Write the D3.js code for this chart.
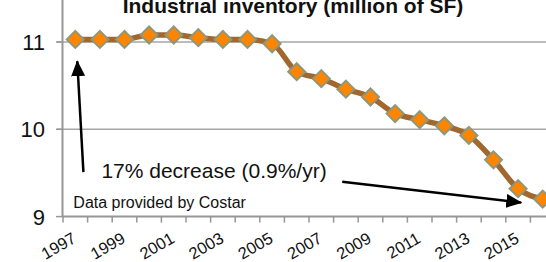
<!DOCTYPE html>
<html>
<head>
<meta charset="utf-8">
<script src="https://cdn.jsdelivr.net/npm/d3@7"></script>
<style>
  body { margin: 0; background: #fff; }
  svg { display: block; font-family: "Liberation Sans", Arial, sans-serif; }
</style>
</head>
<body>
<script>
const width = 546;
const height = 262;

const years = [
  1997, 1998, 1999, 2000, 2001, 2002, 2003, 2004, 2005, 2006,
  2007, 2008, 2009, 2010, 2011, 2012, 2013, 2014, 2015, 2016,
];
const inventory = [
  11.03, 11.03, 11.03, 11.08, 11.08, 11.05, 11.03, 11.03, 10.98, 10.66,
  10.58, 10.46, 10.37, 10.18, 10.11, 10.04, 9.93, 9.65, 9.32, 9.2,
];
const yTicks = [9, 10, 11];
const xLabels = [1997, 1999, 2001, 2003, 2005, 2007, 2009, 2011, 2013, 2015];

const svg = d3
  .select("body")
  .append("svg")
  .attr("width", width)
  .attr("height", height);

const x = d3.scaleBand().domain(years).range([63, 555]).padding(0);
const y = d3.scaleLinear().domain([9, 11]).range([216.6, 42]);

// fractional year -> pixel, for the annotations
const xf = (yr) => x(years[0]) + x.bandwidth() / 2 + (yr - years[0]) * x.step();

// gridlines
svg
  .selectAll(".grid")
  .data(yTicks.filter((d) => d > 9))
  .join("line")
  .attr("class", "grid")
  .attr("x1", 57)
  .attr("x2", width)
  .attr("y1", (d) => y(d))
  .attr("y2", (d) => y(d))
  .attr("stroke", "#a6a6a6")
  .attr("stroke-width", 1.5);

// y axis
svg
  .append("line")
  .attr("x1", 62.5)
  .attr("x2", 62.5)
  .attr("y1", y(9))
  .attr("y2", y(11.5))
  .attr("stroke", "#969696")
  .attr("stroke-width", 2);

svg
  .selectAll(".ytick")
  .data(yTicks)
  .join("line")
  .attr("x1", 56)
  .attr("x2", 62)
  .attr("y1", (d) => y(d))
  .attr("y2", (d) => y(d))
  .attr("stroke", "#969696")
  .attr("stroke-width", 1.5);

svg
  .selectAll(".ylabel")
  .data(yTicks)
  .join("text")
  .attr("x", 45)
  .attr("y", (d) => y(d))
  .attr("dy", "0.36em")
  .attr("text-anchor", "end")
  .attr("font-size", 22)
  .attr("fill", "#111")
  .text((d) => d);

// x axis
svg
  .append("line")
  .attr("x1", 62)
  .attr("x2", width)
  .attr("y1", y(9))
  .attr("y2", y(9))
  .attr("stroke", "#969696")
  .attr("stroke-width", 2);

svg
  .selectAll(".xtick")
  .data(years)
  .join("line")
  .attr("x1", (d) => x(d))
  .attr("x2", (d) => x(d))
  .attr("y1", y(9))
  .attr("y2", y(9) + 6)
  .attr("stroke", "#969696")
  .attr("stroke-width", 1.5);

svg
  .selectAll(".xlabel")
  .data(xLabels)
  .join("text")
  .attr(
    "transform",
    (d) =>
      "translate(" + (x(d) + x.bandwidth() / 2 + 2) + "," + (y(9) + 25) + ") rotate(-30)"
  )
  .attr("text-anchor", "end")
  .attr("font-size", 16.5)
  .attr("fill", "#111")
  .text((d) => d);

// title
svg
  .append("text")
  .attr("x", 293)
  .attr("y", 13)
  .attr("text-anchor", "middle")
  .attr("font-size", 21)
  .attr("font-weight", "bold")
  .attr("fill", "#111")
  .text("Industrial inventory (million of SF)");

// line + markers
const line = d3
  .line()
  .x((d, i) => x(years[i]) + x.bandwidth() / 2)
  .y((d) => y(d))
  .curve(d3.curveMonotoneX);

svg
  .append("path")
  .datum(inventory)
  .attr("d", line)
  .attr("fill", "none")
  .attr("stroke", "#a0672e")
  .attr("stroke-width", 5.5);

svg
  .selectAll(".pt")
  .data(inventory)
  .join("path")
  .attr("class", "pt")
  .attr("d", "M0,-8.5L8.5,0L0,8.5L-8.5,0Z")
  .attr(
    "transform",
    (d, i) => "translate(" + (x(years[i]) + x.bandwidth() / 2) + "," + y(d) + ")"
  )
  .attr("fill", "#ff8500")
  .attr("stroke", "#8e977a")
  .attr("stroke-width", 2);

// annotations
svg
  .append("defs")
  .append("marker")
  .attr("id", "head")
  .attr("markerUnits", "userSpaceOnUse")
  .attr("viewBox", "0 0 16 14")
  .attr("refX", 15)
  .attr("refY", 7)
  .attr("markerWidth", 16)
  .attr("markerHeight", 14)
  .attr("orient", "auto")
  .append("path")
  .attr("d", "M0,0L16,7L0,14Z")
  .attr("fill", "#000");

const arrows = [
  { from: [1997.33, 9.51], to: [1997.08, 10.78] },
  { from: [2007.85, 9.4], to: [2015.13, 9.16] },
];

svg
  .selectAll(".arrow")
  .data(arrows)
  .join("line")
  .attr("x1", (d) => xf(d.from[0]))
  .attr("y1", (d) => y(d.from[1]))
  .attr("x2", (d) => xf(d.to[0]))
  .attr("y2", (d) => y(d.to[1]))
  .attr("stroke", "#000")
  .attr("stroke-width", 2.5)
  .attr("marker-end", "url(#head)");

svg
  .append("text")
  .attr("x", xf(1998.06))
  .attr("y", y(9.44))
  .attr("font-size", 21)
  .attr("fill", "#111")
  .text("17% decrease (0.9%/yr)");

svg
  .append("text")
  .attr("x", xf(1996.92))
  .attr("y", y(9.1))
  .attr("font-size", 16)
  .attr("fill", "#111")
  .text("Data provided by Costar");
</script>
</body>
</html>
